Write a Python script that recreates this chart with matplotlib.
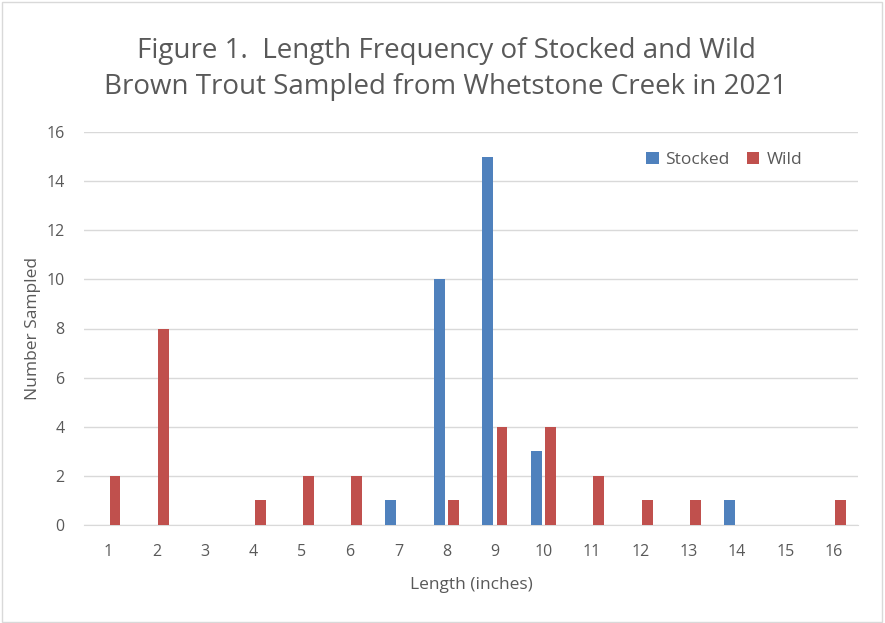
import numpy as np
import matplotlib.pyplot as plt
from matplotlib.patches import Rectangle

plt.rcParams['font.family'] = ['Open Sans', 'DejaVu Sans']

lengths = list(range(1, 17))
stocked = [0, 0, 0, 0, 0, 0, 1, 10, 15, 3, 0, 0, 0, 1, 0, 0]
wild = [2, 8, 0, 1, 2, 2, 0, 1, 4, 4, 2, 1, 1, 0, 0, 1]

gray = '#595959'
x = np.array(lengths)
w = 0.225

fig = plt.figure(figsize=(8.85, 6.23), dpi=100)
ax = fig.add_axes([84 / 885, 1 - 525 / 623, (858 - 84) / 885, (525 - 132) / 623])

ax.bar(x - 0.155, stocked, width=w, color='#4F81BD', label='Stocked', zorder=3)
ax.bar(x + 0.14, wild, width=w, color='#C0504D', label='Wild', zorder=3)

ax.set_xlim(0.5, 16.5)
ax.set_ylim(0, 16)
ax.set_yticks(range(0, 17, 2))
ax.set_xticks(x)
ax.grid(axis='y', color='#D9D9D9', linewidth=1, zorder=0)
for s in ['top', 'right', 'left']:
    ax.spines[s].set_visible(False)
ax.spines['bottom'].set_color('#D9D9D9')
ax.tick_params(axis='x', length=0, colors=gray, labelsize=11.5, pad=14)
ax.tick_params(axis='y', length=0, colors=gray, labelsize=11.5, pad=14)

ax.set_xlabel('Length (inches)', color=gray, fontsize=12.5, labelpad=12)
ax.set_ylabel('Number Sampled', color=gray, fontsize=12.5, labelpad=4)

fig.text(0.504, 0.889, 'Figure 1.  Length Frequency of Stocked and Wild\nBrown Trout Sampled from Whetstone Creek in 2021',
         ha='center', va='center', fontsize=20, color=gray, linespacing=1.35)

leg = ax.legend(loc='upper right', bbox_to_anchor=(0.948, 0.99), ncol=2, frameon=False,
                fontsize=12.5, handlelength=0.7, handleheight=0.7, columnspacing=1.0,
                handletextpad=0.4, labelcolor=gray)

fig.add_artist(Rectangle((0.002, 0.002), 0.995, 0.995, transform=fig.transFigure,
                         fill=False, edgecolor='#D9D9D9', linewidth=1))

fig.savefig('out.png', dpi=100)
